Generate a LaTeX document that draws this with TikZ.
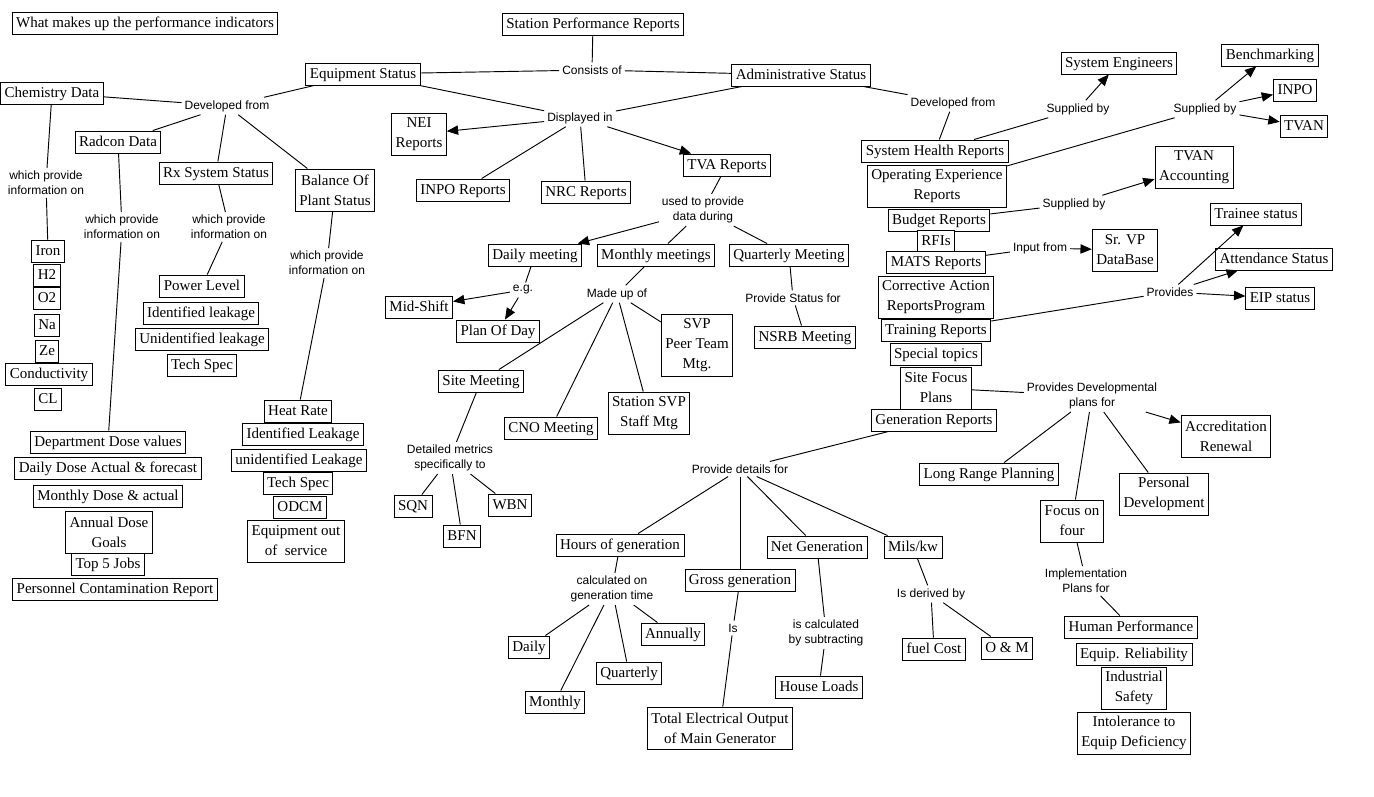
\documentclass[tikz,border=0pt]{standalone}
\usepackage{fontspec}
\setmainfont{Liberation Serif}
\setsansfont{Liberation Sans}
\usetikzlibrary{arrows.meta}

\begin{document}
\begin{tikzpicture}[x=0.75pt,y=-0.75pt,line width=0.7pt,
  cadre/.style={draw,fill=white,align=center,inner xsep=3pt,inner ysep=0.75pt,
    font=\fontsize{11.25}{15}\selectfont},
  boite/.style={cadre,text height=10.5pt,text depth=4.5pt},
  boite2/.style={cadre,minimum height=31.5pt},
  boite3/.style={cadre,minimum height=46.5pt},
  lien/.style={align=center,inner sep=2pt,
    font=\sffamily\fontsize{9}{11}\selectfont},
  fleche/.style={-{Triangle[length=8.5pt,width=7pt]}}]

\useasboundingbox[fill=white] (0,0) rectangle (1374,796);

% Titre
\node[boite] (titre) at (145,23)
{What makes up the performance indicators};

% Station Performance Reports
\node[boite] (spr) at (593,24)
{Station Performance Reports};

\node[lien] (consiste) at (592,70)
{Consists of};

\node[boite] (equip) at (363,74)
{Equipment Status};

\node[boite] (admin) at (801,75)
{Administrative Status};

\draw (spr) -- (consiste);
\draw (consiste) -- (equip);
\draw (consiste) -- (admin);

% Equipment Status
\node[lien] (devA) at (227,106)
{Developed from};

\node[boite] (chem) at (52,93)
{Chemistry Data};

\node[boite] (radcon) at (118,142)
{Radcon Data};

\node[boite] (rx) at (216,173)
{Rx System Status};

\node[boite2] (bop) at (335,190)
{Balance Of\\Plant Status};

\draw (chem) -- (devA);
\draw (devA) -- (equip);
\draw (devA) -- (radcon);
\draw (devA) -- (rx);
\draw (devA) -- (bop);

% Chemistry Data
\node[lien] (infochem) at (46,183)
{which provide\\information on};

\node[boite] (iron) at (48,251) {Iron};
\node[boite] (h2) at (47,275) {H2};
\node[boite] (o2) at (47,298) {O2};
\node[boite] (na) at (47,325) {Na};
\node[boite] (ze) at (47,351) {Ze};
\node[boite] (cond) at (49,374) {Conductivity};
\node[boite] (cl) at (48,399) {CL};

\draw (chem) -- (infochem);
\draw (infochem) -- (iron);

% Radcon Data
\node[lien] (inforad) at (122,227)
{which provide\\information on};

\node[boite] (dept) at (108,442) {Department Dose values};
\node[boite] (dailydose) at (108,468) {Daily Dose Actual \& forecast};
\node[boite] (monthlydose) at (108,496) {Monthly Dose \& actual};
\node[boite2] (annual) at (109,532) {Annual Dose\\Goals};
\node[boite] (top5) at (108,564) {Top 5 Jobs};
\node[boite] (pers) at (115,589) {Personnel Contamination Report};

\draw (radcon) -- (inforad);
\draw (inforad) -- (dept);

% Rx System Status
\node[lien] (inforx) at (229,227)
{which provide\\information on};

\node[boite] (pwr) at (202,286) {Power Level};
\node[boite] (idl) at (201,313) {Identified leakage};
\node[boite] (unidl) at (202,339) {Unidentified leakage};
\node[boite] (tsrx) at (202,365) {Tech Spec};

\draw (rx) -- (inforx);
\draw (inforx) -- (pwr);

% Balance Of Plant Status
\node[lien] (infobop) at (327,263)
{which provide\\information on};

\node[boite] (heat) at (298,411) {Heat Rate};
\node[boite] (idleak) at (303,434) {Identified Leakage};
\node[boite] (unidleak) at (299,460) {unidentified Leakage};
\node[boite] (tsbop) at (298,483) {Tech Spec};
\node[boite] (odcm) at (300,507) {ODCM};
\node[boite2] (eqout) at (296,541) {Equipment out\\of~ service};

\draw (bop) -- (infobop);
\draw (infobop) -- (heat);

% Displayed in
\node[lien] (affiche) at (580,118)
{Displayed in};

\node[boite2] (nei) at (419,134)
{NEI\\Reports};

\node[boite] (inpor) at (463,190)
{INPO Reports};

\node[boite] (nrc) at (586,192)
{NRC Reports};

\node[boite] (tva) at (727,165)
{TVA Reports};

\draw (equip) -- (affiche);
\draw (admin) -- (affiche);
\draw[fleche] (affiche) -- (nei);
\draw (affiche) -- (inpor);
\draw (affiche) -- (nrc);
\draw[fleche] (affiche) -- (tva);

% TVA Reports
\node[lien] (utilise) at (703,210)
{used to provide\\data during};

\node[boite] (dailym) at (535,255)
{Daily meeting};

\node[boite] (monthlym) at (656,255)
{Monthly meetings};

\node[boite] (quarterlym) at (789,255)
{Quarterly Meeting};

\draw (tva) -- (utilise);
\draw[fleche] (utilise) -- (dailym);
\draw (utilise) -- (monthlym);
\draw (utilise) -- (quarterlym);

% Daily meeting
\node[lien] (eg) at (523,290)
{e.g.};

\node[boite] (mid) at (419,307)
{Mid-Shift};

\node[boite] (plan) at (498,331)
{Plan Of Day};

\draw (dailym) -- (eg);
\draw[fleche] (eg) -- (mid);
\draw[fleche] (eg) -- (plan);

% Monthly meetings
\node[lien] (compose) at (617,294)
{Made up of};

\node[boite] (site) at (481,381)
{Site Meeting};

\node[boite] (cno) at (551,428)
{CNO Meeting};

\node[boite2] (stsvp) at (649,413)
{Station SVP\\Staff Mtg};

\node[boite3] (svppeer) at (697,345)
{SVP\\Peer Team\\Mtg.};

\draw (monthlym) -- (compose);
\draw (compose) -- (site);
\draw (compose) -- (cno);
\draw (compose) -- (stsvp);
\draw (compose) -- (svppeer);

% Site Meeting
\node[lien] (metriques) at (450,458)
{Detailed metrics\\specifically to};

\node[boite] (sqn) at (413,506) {SQN};
\node[boite] (bfn) at (462,536) {BFN};
\node[boite] (wbn) at (510,505) {WBN};

\draw (site) -- (metriques);
\draw (metriques) -- (sqn);
\draw (metriques) -- (bfn);
\draw (metriques) -- (wbn);

% Quarterly Meeting
\node[lien] (statut) at (793,298)
{Provide Status for};

\node[boite] (nsrb) at (805,337)
{NSRB Meeting};

\draw (quarterlym) -- (statut);
\draw (statut) -- (nsrb);

% Administrative Status
\node[lien] (devB) at (953,103)
{Developed from};

\node[boite] (shr) at (935,151) {System Health Reports};
\node[boite2] (oer) at (937,186) {Operating Experience\\Reports};
\node[boite] (budget) at (939,220) {Budget Reports};
\node[boite] (rfi) at (936,241) {RFIs};
\node[boite] (mats) at (936,262) {MATS Reports};
\node[boite2] (car) at (936,297) {Corrective Action\\ReportsProgram};
\node[boite] (train) at (936,330) {Training Reports};
\node[boite] (special) at (936,354) {Special topics};
\node[boite2] (sfp) at (936,388) {Site Focus\\Plans};
\node[boite] (gen) at (934,420) {Generation Reports};

\draw (admin) -- (devB);
\draw (devB) -- (shr);

% Supplied by
\node[lien] (fourniSE) at (1078,109)
{Supplied by};

\node[boite] (se) at (1119,63)
{System Engineers};

\draw (shr) -- (fourniSE);
\draw[fleche] (fourniSE) -- (se);

\node[lien] (fourniB) at (1205,109)
{Supplied by};

\node[boite] (bench) at (1270,55) {Benchmarking};
\node[boite] (inpo) at (1295,90) {INPO};
\node[boite] (tvan) at (1304,126) {TVAN};

\draw (oer) -- (fourniB);
\draw[fleche] (fourniB) -- (bench);
\draw[fleche] (fourniB) -- (inpo);
\draw[fleche] (fourniB) -- (tvan);

\node[lien] (fourniBud) at (1074,204)
{Supplied by};

\node[boite2] (tvanacc) at (1194,167)
{TVAN\\Accounting};

\draw (budget) -- (fourniBud);
\draw[fleche] (fourniBud) -- (tvanacc);

% MATS Reports
\node[lien] (entree) at (1040,248)
{Input from};

\node[boite2] (srvp) at (1125,250)
{Sr. VP\\DataBase};

\draw (mats) -- (entree);
\draw[fleche] (entree) -- (srvp);

% Training Reports
\node[lien] (fournit) at (1170,292)
{Provides};

\node[boite] (trainee) at (1256,214) {Trainee status};
\node[boite] (attend) at (1274,259) {Attendance Status};
\node[boite] (eip) at (1280,298) {EIP status};

\draw (train) -- (fournit);
\draw[fleche] (fournit) -- (trainee);
\draw[fleche] (fournit) -- (attend);
\draw[fleche] (fournit) -- (eip);

% Site Focus Plans
\node[lien] (plans) at (1092,396)
{Provides Developmental\\plans for};

\node[boite2] (accr) at (1226,436) {Accreditation\\Renewal};
\node[boite] (lrp) at (989,474) {Long Range Planning};
\node[boite2] (focus) at (1072,521) {Focus on\\four};
\node[boite2] (pd) at (1164,494) {Personal\\Development};

\draw (sfp) -- (plans);
\draw[fleche] (plans) -- (accr);
\draw (plans) -- (lrp);
\draw (plans) -- (focus);
\draw (plans) -- (pd);

% Focus on four
\node[lien] (impl) at (1086,581)
{Implementation\\Plans for};

\node[boite] (hp) at (1131,627) {Human Performance};
\node[boite] (er) at (1134,654) {Equip. Reliability};
\node[boite2] (indsaf) at (1134,688) {Industrial\\Safety};
\node[boite2] (itd) at (1134,733) {Intolerance to\\Equip Deficiency};

\draw (focus) -- (impl);
\draw (impl) -- (hp);

% Generation Reports
\node[lien] (detgen) at (740,469)
{Provide details for};

\node[boite] (hours) at (620,545) {Hours of generation};
\node[boite] (gross) at (740,580) {Gross generation};
\node[boite] (net) at (817,547) {Net Generation};
\node[boite] (mils) at (913,547) {Mils/kw};

\draw (gen) -- (detgen);
\draw (detgen) -- (hours);
\draw (detgen) -- (gross);
\draw (detgen) -- (net);
\draw (detgen) -- (mils);

% Hours of generation
\node[lien] (calc) at (612,589)
{calculated on\\generation time};

\node[boite] (daily) at (529,647) {Daily};
\node[boite] (monthly) at (555,702) {Monthly};
\node[boite] (quarterly) at (629,673) {Quarterly};
\node[boite] (annually) at (673,634) {Annually};

\draw (hours) -- (calc);
\draw (calc) -- (daily);
\draw (calc) -- (monthly);
\draw (calc) -- (quarterly);
\draw (calc) -- (annually);

% Gross generation
\node[lien] (est) at (733,628)
{Is};

\node[boite2] (total) at (720,728)
{Total Electrical Output\\of Main Generator};

\draw (gross) -- (est);
\draw (est) -- (total);

% Net Generation
\node[lien] (soustr) at (826,633)
{is calculated\\by subtracting};

\node[boite] (house) at (819,687)
{House Loads};

\draw (net) -- (soustr);
\draw (soustr) -- (house);

% Mils/kw
\node[lien] (derive) at (931,594)
{Is derived by};

\node[boite] (fuel) at (934,649) {fuel Cost};
\node[boite] (om) at (1007,648) {O \& M};

\draw (mils) -- (derive);
\draw (derive) -- (fuel);
\draw (derive) -- (om);

\end{tikzpicture}
\end{document}
